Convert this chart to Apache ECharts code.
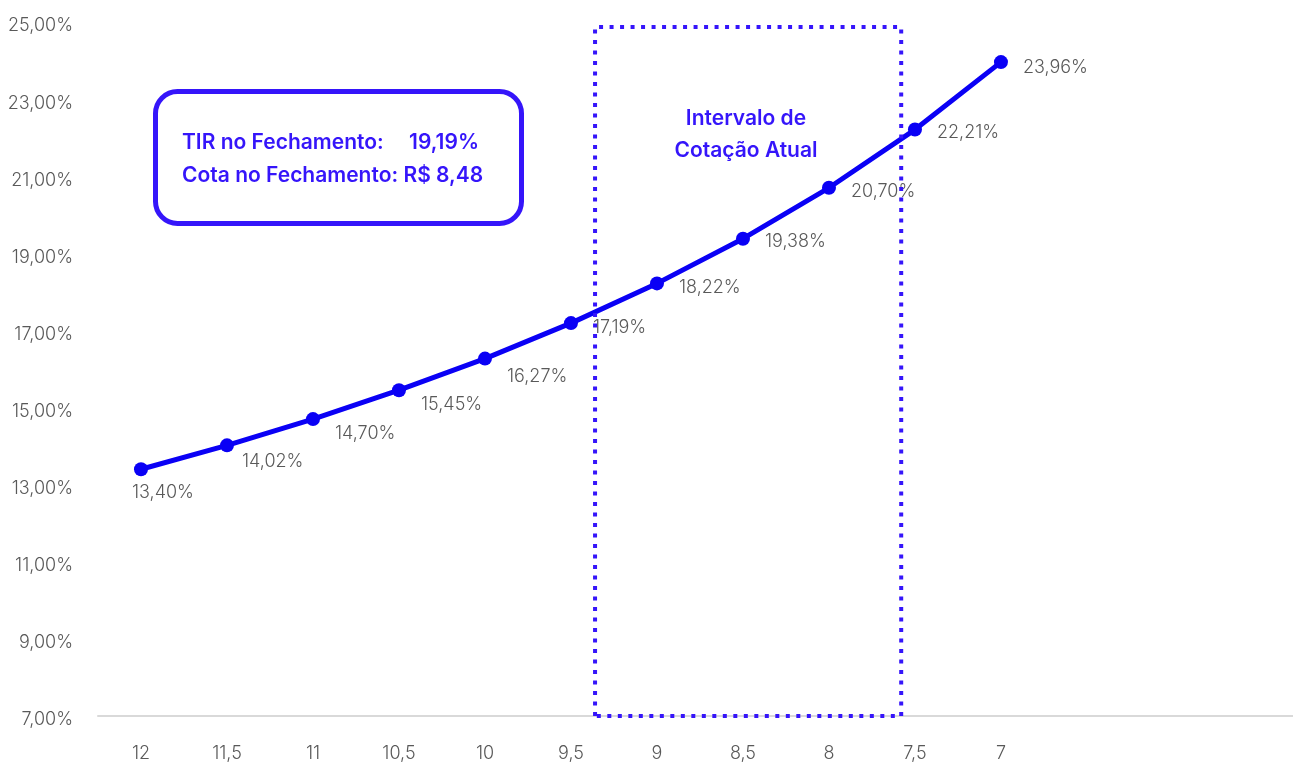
<!DOCTYPE html>
<html>
<head>
<meta charset="utf-8">
<title>TIR x Cota</title>
<script src="https://cdn.jsdelivr.net/npm/echarts@6/dist/echarts.min.js"></script>
<style>
  html, body { margin: 0; padding: 0; background: #ffffff; }
  #chart { width: 1293px; height: 762px; }
</style>
</head>
<body>
<div id="chart"></div>
<script>
// Cota (R$) on the x axis, TIR (%) on the y axis
const cotas = [12, 11.5, 11, 10.5, 10, 9.5, 9, 8.5, 8, 7.5, 7];
const tir = [13.40, 14.02, 14.70, 15.45, 16.27, 17.19, 18.22, 19.38, 20.70, 22.21, 23.96];
const yTicks = [7, 9, 11, 13, 15, 17, 19, 21, 23, 25];

// current price band (cota from / to) and its height in %
const intervaloCota = [9.36, 7.58];
const intervaloTir = [7, 24.87];

// closing figures
const tirFechamento = 19.19;
const cotaFechamento = 8.48;

const fmtPct = v => v.toFixed(2).replace('.', ',') + '%';
const fmtCota = v => String(v).replace('.', ',');

const FONT = 'Inter';
const GRAY = '#595959';
const BLUE_LINE = '#0a00f5';
const BLUE_BOX = '#3515fa';

// per-point label offsets (first label sits under its point)
const labelOffsets = [[22, 2], [3, 16], [10, 14], [10, 14], [10, 18], [10, 4], [10, 4], [10, 3], [10, 4], [10, 3], [10, 5]];

const chart = echarts.init(document.getElementById('chart'), null, { renderer: 'canvas' });

const pointData = tir.map((v, i) => ({
  value: [cotas[i], v],
  label: { show: true, position: i === 0 ? 'bottom' : 'right', offset: labelOffsets[i] }
}));

const boxPath = [
  [intervaloCota[0], intervaloTir[0]],
  [intervaloCota[0], intervaloTir[1]],
  [intervaloCota[1], intervaloTir[1]],
  [intervaloCota[1], intervaloTir[0]],
  [intervaloCota[0], intervaloTir[0]]
];

const boxFont = '600 21px Inter';

chart.setOption({
  animation: false,
  backgroundColor: '#ffffff',
  grid: { left: 98, top: 22, bottom: 46, right: 0, outerBoundsMode: 'none', containLabel: false },
  xAxis: {
    type: 'value',
    inverse: true,
    min: 5.302,
    max: 12.25,
    splitLine: { show: false },
    axisTick: { show: false },
    axisLine: { show: true, onZero: false, lineStyle: { color: '#d9d9d9', width: 2 } },
    axisLabel: {
      customValues: cotas,
      formatter: v => fmtCota(v),
      color: GRAY,
      fontFamily: FONT,
      fontWeight: 300,
      fontSize: 18,
      margin: 29
    }
  },
  yAxis: {
    type: 'value',
    min: 7,
    max: 25,
    splitLine: { show: false },
    axisTick: { show: false },
    axisLine: { show: false },
    axisLabel: {
      customValues: yTicks,
      formatter: v => fmtPct(v),
      color: GRAY,
      fontFamily: FONT,
      fontWeight: 300,
      fontSize: 18,
      margin: 25,
      verticalAlign: 'top',
      lineHeight: 8
    }
  },
  series: [
    {
      name: 'TIR',
      type: 'line',
      data: pointData,
      symbol: 'circle',
      symbolSize: 14,
      z: 3,
      lineStyle: { color: BLUE_LINE, width: 5 },
      itemStyle: { color: BLUE_LINE },
      label: {
        formatter: p => fmtPct(p.value[1]),
        color: GRAY,
        fontFamily: FONT,
        fontWeight: 300,
        fontSize: 18
      }
    },
    {
      name: 'Intervalo',
      type: 'line',
      data: boxPath,
      symbol: 'none',
      z: 5,
      silent: true,
      lineStyle: { color: BLUE_BOX, width: 4, type: [4, 6.5], cap: 'butt' }
    }
  ],
  graphic: [
    {
      type: 'rect',
      left: 153, top: 89,
      shape: { width: 366, height: 132, r: 22 },
      style: { fill: '#ffffff', stroke: BLUE_BOX, lineWidth: 5 },
      z: 10
    },
    {
      type: 'text', x: 182, y: 143, z: 11,
      style: { text: 'TIR no Fechamento:', fill: BLUE_BOX, font: boxFont, textVerticalAlign: 'middle' }
    },
    {
      type: 'text', x: 479, y: 143, z: 11,
      style: { text: fmtPct(tirFechamento), fill: BLUE_BOX, font: boxFont, textAlign: 'right', textVerticalAlign: 'middle' }
    },
    {
      type: 'text', x: 182, y: 176, z: 11,
      style: { text: 'Cota no Fechamento: R$ ' + fmtCota(cotaFechamento), fill: BLUE_BOX, font: boxFont, textVerticalAlign: 'middle' }
    },
    {
      type: 'text', x: 746, y: 119, z: 11,
      style: { text: 'Intervalo de', fill: BLUE_BOX, font: boxFont, textAlign: 'center', textVerticalAlign: 'middle' }
    },
    {
      type: 'text', x: 746, y: 151, z: 11,
      style: { text: 'Cotação Atual', fill: BLUE_BOX, font: boxFont, textAlign: 'center', textVerticalAlign: 'middle' }
    }
  ]
});
</script>
</body>
</html>
